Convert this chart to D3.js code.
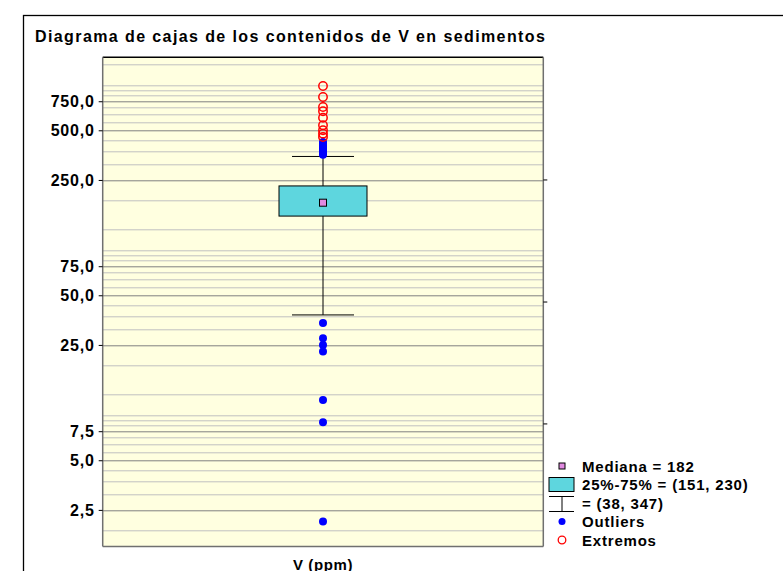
<!DOCTYPE html>
<html>
<head>
<meta charset="utf-8">
<script src="https://cdn.jsdelivr.net/npm/d3@7"></script>
<style>
  body { margin: 0; background: #fff; }
  text { font-family: Arial, "Liberation Sans", sans-serif; font-weight: bold; fill: #000; }
</style>
</head>
<body>
<div id="chart"></div>
<script>
// data
var category = ["V (ppm)"];
var median = 182;
var q1 = 151, q3 = 230;
var whiskerLow = 38, whiskerHigh = 347;
var outliersLow = [34, 27.4, 25, 22.8, 11.6, 8.5, 2.13];
var outliersHigh = [355, 362, 370, 378, 386, 395, 405, 415, 425];
var extremos = [928, 796, 692, 652, 596, 536, 500, 477, 455];
var tickValues = [2.5, 5, 7.5, 25, 50, 75, 250, 500, 750];
var minorGrid = [1.875, 3.125, 3.75, 4.375, 5.625, 6.25, 6.875, 8.125, 8.75, 9.375, 12.5, 18.75,
                 31.25, 37.5, 43.75, 56.25, 62.5, 68.75, 81.25, 87.5, 93.75, 125, 187.5,
                 312.5, 375, 437.5, 562.5, 625, 687.5, 812.5, 875, 937.5, 1250];
var rightTicks = [250, 45.5, 8.3];
var legendLabels = ["Mediana = 182", "25%-75% = (151, 230)", "= (38, 347)", "Outliers", "Extremos"];

var W = 783, H = 571;
var margin = {top: 57.3, right: 239.7, bottom: 24.5, left: 102.7},
    width = W - margin.left - margin.right,
    height = H - margin.top - margin.bottom;

var svg = d3.select("#chart")
  .append("svg")
    .attr("width", W)
    .attr("height", H);

// outer frame
svg.append("rect")
  .attr("x", 23.5).attr("y", 15.5)
  .attr("width", 800).attr("height", 600)
  .attr("fill", "none")
  .attr("stroke", "#000")
  .attr("stroke-width", 1.3);

svg.append("text")
  .attr("x", 35).attr("y", 42)
  .style("font-size", "16px")
  .style("letter-spacing", "1.4px")
  .text("Diagrama de cajas de los contenidos de V en sedimentos");

var g = svg.append("g")
  .attr("transform", "translate(" + margin.left + "," + margin.top + ")");

var x = d3.scaleBand()
  .domain(category)
  .range([0, width]);

var y = d3.scaleLog()
  .domain([1.5, 1385])
  .range([height, 0]);

g.append("rect")
  .attr("width", width).attr("height", height)
  .attr("fill", "#ffffe0");

// grid
g.selectAll("line.minor").data(minorGrid).enter()
  .append("line")
    .attr("class", "minor")
    .attr("x1", 0).attr("x2", width)
    .attr("y1", function(d) { return Math.round(y(d)) + 0.5; })
    .attr("y2", function(d) { return Math.round(y(d)) + 0.5; })
    .attr("stroke", "#c0c0c0")
    .attr("stroke-width", 1);

g.selectAll("line.major").data(tickValues).enter()
  .append("line")
    .attr("class", "major")
    .attr("x1", 0).attr("x2", width)
    .attr("y1", function(d) { return Math.round(y(d)) + 0.5; })
    .attr("y2", function(d) { return Math.round(y(d)) + 0.5; })
    .attr("stroke", "#808080")
    .attr("stroke-width", 1);

// plot border
g.append("line").attr("x1", 0).attr("x2", width).attr("y1", 0).attr("y2", 0)
  .attr("stroke", "#000").attr("stroke-width", 1.5);
g.append("line").attr("x1", 0).attr("x2", 0).attr("y1", 0).attr("y2", height)
  .attr("stroke", "#707070").attr("stroke-width", 1.5);
g.append("line").attr("x1", width).attr("x2", width).attr("y1", 0).attr("y2", height)
  .attr("stroke", "#707070").attr("stroke-width", 1.5);
g.append("line").attr("x1", 0).attr("x2", width).attr("y1", height).attr("y2", height)
  .attr("stroke", "#707070").attr("stroke-width", 1.5);

// left axis
var yAxis = d3.axisLeft(y)
  .tickValues(tickValues)
  .tickSize(4)
  .tickPadding(4)
  .tickFormat(function(d) { return d3.format(".1f")(d).replace(".", ","); });
var ya = g.append("g").call(yAxis);
ya.select(".domain").remove();
ya.selectAll(".tick line").attr("stroke", "#000");
ya.selectAll("text")
  .style("font-size", "16px")
  .style("letter-spacing", "0.8px")
  .attr("fill", "#000");

// right ticks
g.selectAll("line.rtick").data(rightTicks).enter()
  .append("line")
    .attr("x1", width).attr("x2", width + 4)
    .attr("y1", function(d) { return y(d); })
    .attr("y2", function(d) { return y(d); })
    .attr("stroke", "#000");

// box plot
var cx = x(category[0]) + x.bandwidth() / 2;
var boxW = 88, capW = 62;

g.append("line")
  .attr("x1", cx).attr("x2", cx)
  .attr("y1", y(whiskerHigh)).attr("y2", y(whiskerLow))
  .attr("stroke", "#000");
[whiskerLow, whiskerHigh].forEach(function(v) {
  g.append("line")
    .attr("x1", cx - capW / 2).attr("x2", cx + capW / 2)
    .attr("y1", y(v)).attr("y2", y(v))
    .attr("stroke", "#000");
});

g.append("rect")
  .attr("x", cx - boxW / 2)
  .attr("y", y(q3))
  .attr("width", boxW)
  .attr("height", y(q1) - y(q3))
  .attr("fill", "#5ed6de")
  .attr("stroke", "#000");

g.append("rect")
  .attr("x", cx - 3.5).attr("y", y(median) - 3.5)
  .attr("width", 7).attr("height", 7)
  .attr("fill", "#e08ae0")
  .attr("stroke", "#000");

g.selectAll("circle.out").data(outliersLow.concat(outliersHigh)).enter()
  .append("circle")
    .attr("cx", cx).attr("cy", function(d) { return y(d); })
    .attr("r", 4)
    .attr("fill", "#0000ff");

g.selectAll("circle.ext").data(extremos).enter()
  .append("circle")
    .attr("cx", cx).attr("cy", function(d) { return y(d); })
    .attr("r", 4.2)
    .attr("fill", "none")
    .attr("stroke", "#ff0000")
    .attr("stroke-width", 1.5);

// x label
g.append("text")
  .attr("x", cx).attr("y", height + 23.5)
  .attr("text-anchor", "middle")
  .style("font-size", "15px")
  .style("letter-spacing", "0.6px")
  .text(category[0]);

// legend
var lg = svg.append("g").attr("transform", "translate(562,466)");
var rowH = 18.5;
lg.selectAll("text").data(legendLabels).enter()
  .append("text")
    .attr("x", 20)
    .attr("y", function(d, i) { return i * rowH + 5.5; })
    .style("font-size", "15px")
    .style("letter-spacing", "0.8px")
    .text(function(d) { return d; });

lg.append("rect").attr("x", -3).attr("y", -3).attr("width", 6).attr("height", 6)
  .attr("fill", "#e08ae0").attr("stroke", "#000");
lg.append("rect").attr("x", -13).attr("y", rowH - 7).attr("width", 25).attr("height", 14)
  .attr("fill", "#5ed6de").attr("stroke", "#000");
lg.append("line").attr("x1", -13).attr("x2", 12).attr("y1", 2 * rowH - 6.5).attr("y2", 2 * rowH - 6.5)
  .attr("stroke", "#000");
lg.append("line").attr("x1", -13).attr("x2", 12).attr("y1", 2 * rowH + 8.5).attr("y2", 2 * rowH + 8.5)
  .attr("stroke", "#000");
lg.append("line").attr("x1", 0).attr("x2", 0).attr("y1", 2 * rowH - 6.5).attr("y2", 2 * rowH + 8.5)
  .attr("stroke", "#000");
lg.append("circle").attr("cx", 0).attr("cy", 3 * rowH).attr("r", 3.5).attr("fill", "#0000ff");
lg.append("circle").attr("cx", 0).attr("cy", 4 * rowH).attr("r", 3.8)
  .attr("fill", "none").attr("stroke", "#ff0000").attr("stroke-width", 1.3);
</script>
</body>
</html>
